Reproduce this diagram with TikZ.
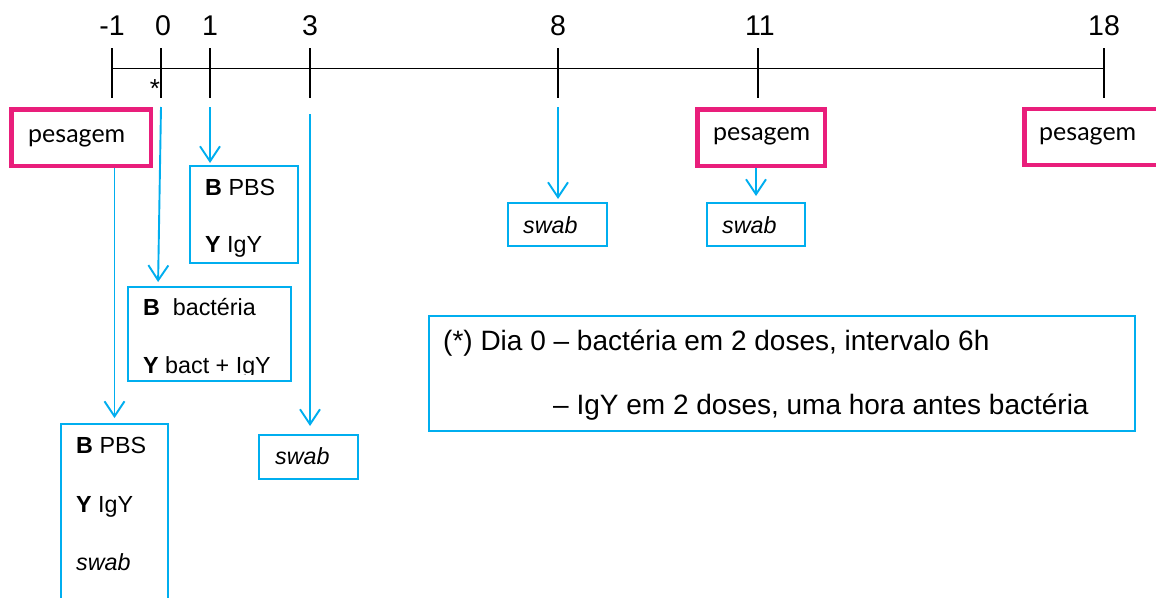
\documentclass[tikz,border=0pt]{standalone}
\usepackage{fontspec}
\setmainfont{Liberation Sans}
\newfontfamily\gillfont{Lato}
\usetikzlibrary{arrows.meta}
\definecolor{skyline}{RGB}{0,174,239}
\definecolor{weighpink}{RGB}{233,30,123}
\tikzset{
  axis/.style={draw=black, line width=1.9pt},
  daylabel/.style={anchor=base, inner sep=0pt, font=\fontsize{28.5}{30}\selectfont},
  weighbox/.style={draw=weighpink, line width=4.5pt, inner sep=0pt},
  infobox/.style={draw=skyline, line width=2pt, inner sep=0pt},
  weightext/.style={anchor=base west, inner sep=0pt, font=\gillfont\fontsize{25}{27}\selectfont},
  boxtext/.style={anchor=base west, inner sep=0pt, font=\fontsize{23.3}{25}\selectfont},
  notetext/.style={anchor=base west, inner sep=0pt, font=\fontsize{28}{30}\selectfont},
  flow/.style={draw=skyline, line width=1.9pt, -{Straight Barb[length=15pt,width=20pt,line width=1.9pt]}},
}
\begin{document}
\begin{tikzpicture}[x=1pt,y=-1pt]
\clip (0,0) rectangle (1156,597);
\fill[white] (0,0) rectangle (1156,597);

% time axis
\draw[axis] (113,68.5) coordinate (axL) -- (1104,68.5) coordinate (axR);
\foreach \d/\x in {m1/111.7, 0/161, 1/210, 3/310, 8/558, 11/758, 18/1104}{
  \draw[axis] (\x,48) coordinate (tt\d) -- (\x,98) coordinate (tb\d);
}
\node[daylabel] (dm1) at (112,35) {-1};
\node[daylabel] (d0) at (163,35) {0};
\node[daylabel] (d1) at (210,35) {1};
\node[daylabel] (d3) at (310,35) {3};
\node[daylabel] (d8) at (558,35) {8};
\node[daylabel] (d11) at (760,35) {11};
\node[daylabel] (d18) at (1104,35) {18};
\node[anchor=base, inner sep=0pt, font=\fontsize{26}{28}\selectfont] (star) at (155,97) {*};

% weighing days
\node[weighbox, minimum width=139.5pt, minimum height=56.5pt] (p1) at (81,137.5) {};
\node[weightext] (p1t) at (28,142) {pesagem};
\node[weighbox, minimum width=127.5pt, minimum height=56.5pt] (p2) at (761,137.5) {};
\node[weightext] (p2t) at (713,140) {pesagem};
\node[weighbox, minimum width=135pt, minimum height=56pt] (p3) at (1091.75,137) {};
\node[weightext] (p3t) at (1039,140) {pesagem};

% treatment boxes
\node[infobox, minimum width=108pt, minimum height=97pt] (bpbs) at (244,214.5) {};
\node[boxtext] (bpbs1) at (205,195) {\textbf{B} PBS};
\node[boxtext] (bpbs2) at (205,252) {\textbf{Y} IgY};

\node[infobox, minimum width=163pt, minimum height=94pt] (bact) at (209.5,334) {};
\node[boxtext] (bact1) at (143,315) {\textbf{B}\hspace{0.55em}bactéria};
\begin{scope}
  \clip (128,287) rectangle (291,374.5);
  \node[boxtext] (bact2) at (143,373.5) {\textbf{Y} bact + IgY};
\end{scope}

\node[infobox, minimum width=107pt, minimum height=200pt] (low) at (114.5,524) {};
\node[boxtext] (low1) at (76,453) {\textbf{B} PBS};
\node[boxtext] (low2) at (76,512) {\textbf{Y} IgY};
\node[boxtext] (low3) at (76,570) {\textit{swab}};

% swab boxes
\node[infobox, minimum width=99pt, minimum height=44pt] (sw3) at (308.5,457) {};
\node[boxtext] (sw3t) at (275,464) {\textit{swab}};
\node[infobox, minimum width=99pt, minimum height=43pt] (sw8) at (557.5,224.5) {};
\node[boxtext] (sw8t) at (523,233) {\textit{swab}};
\node[infobox, minimum width=98pt, minimum height=43pt] (sw11) at (756,224.5) {};
\node[boxtext] (sw11t) at (722,233) {\textit{swab}};

% footnote
\node[infobox, minimum width=706pt, minimum height=115pt] (note) at (782,373.5) {};
\node[notetext] (note1) at (443,350) {(*) Dia 0 – bactéria em 2 doses, intervalo 6h};
\node[notetext] (note2) at (553,414) {– IgY em 2 doses, uma hora antes bactéria};

% connectors
\coordinate (f0) at (161,107);
\coordinate (f0e) at (158,287);
\coordinate (f1) at (210,107);
\coordinate (f3) at (310,114);
\coordinate (f8) at (558,107);
\draw[flow, shorten >=5pt] (low.north |- p1.south) -- (low.north);
\draw[flow, shorten >=5pt] (f0) -- (f0e);
\draw[flow, shorten >=2pt] (f1) -- (f1 |- bpbs.north);
\draw[flow, shorten >=8pt] (f3) -- (f3 |- sw3.north);
\draw[flow, shorten >=3pt] (f8) -- (f8 |- sw8.north);
\draw[flow, shorten >=6pt] (sw11.north |- p2.south) -- (sw11.north);
\end{tikzpicture}
\end{document}
